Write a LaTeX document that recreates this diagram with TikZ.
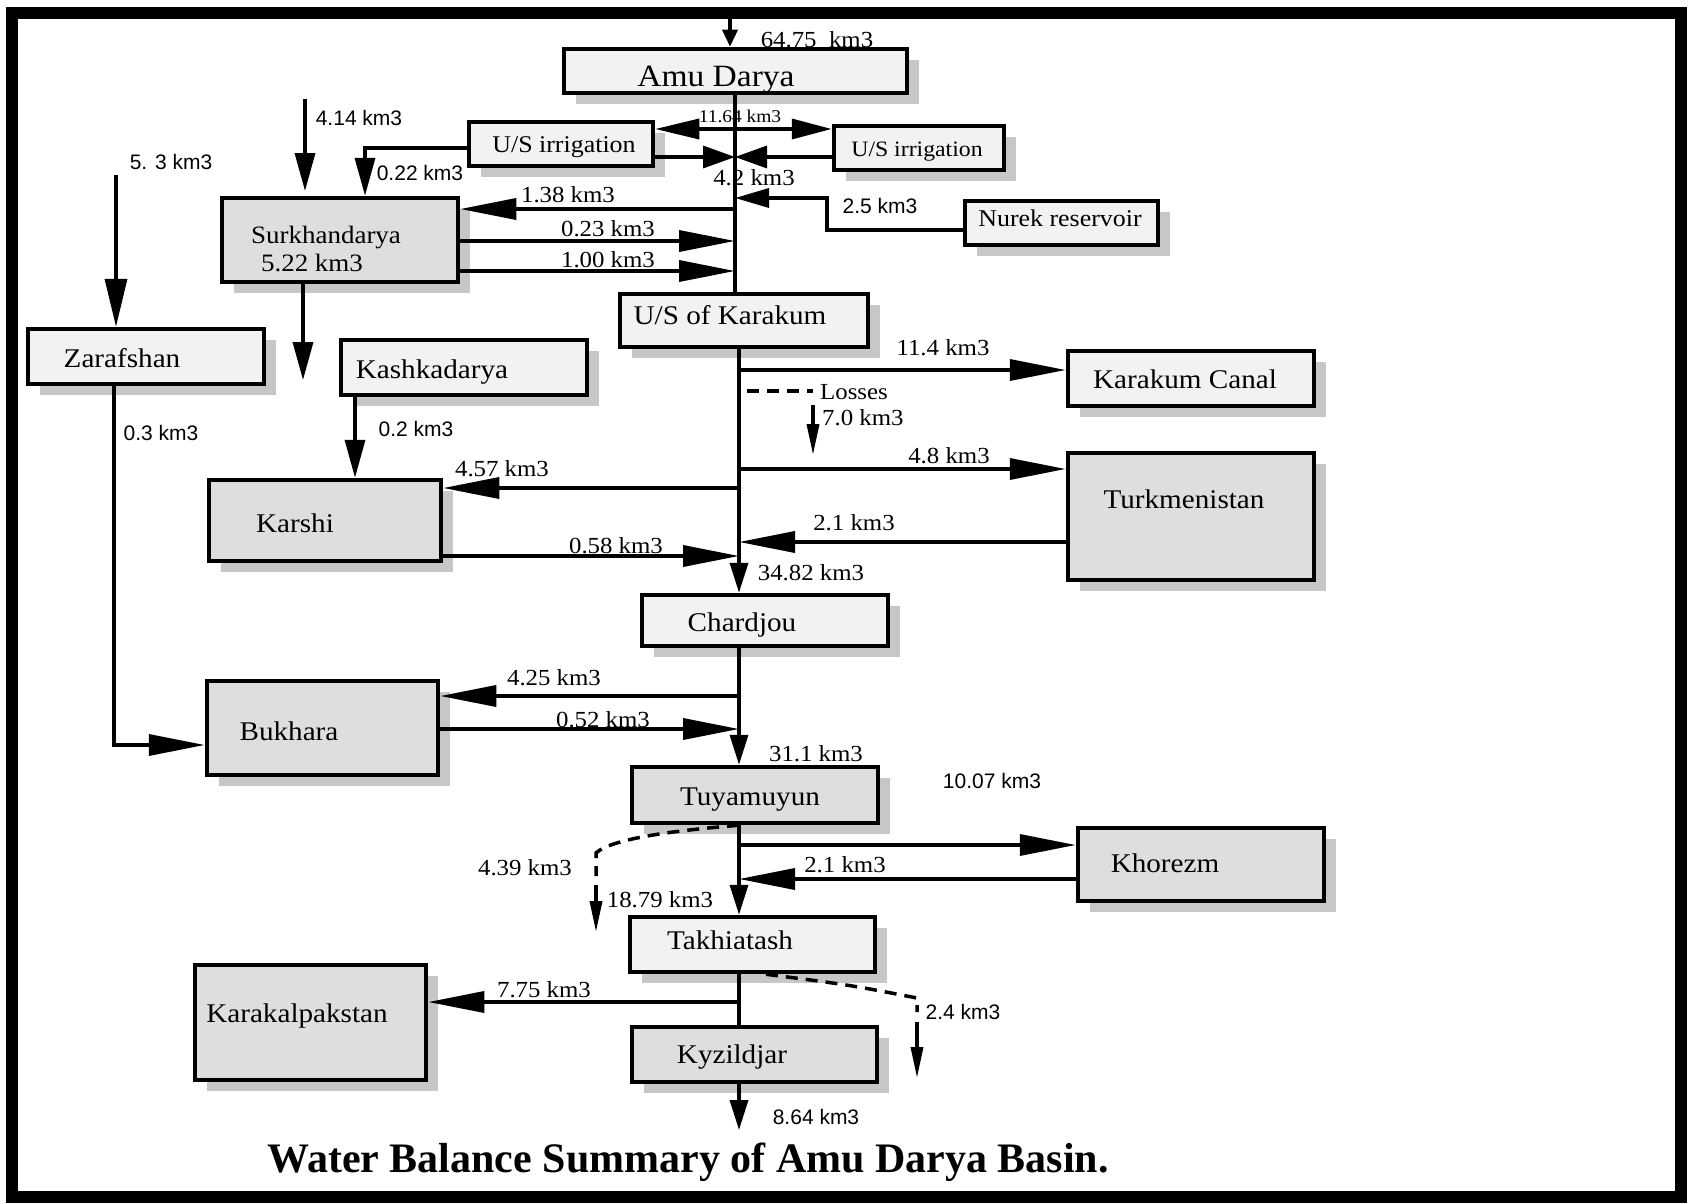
\documentclass[tikz,border=0pt]{standalone}
\usepackage{fontspec}
\setmainfont{Liberation Serif}[FakeStretch=1.08]
\newfontfamily\sansf{Liberation Sans}
\newfontfamily\titlef{Liberation Serif}
\usetikzlibrary{arrows.meta,shadows}
\begin{document}
\begin{tikzpicture}[x=1pt,y=-1pt,
  box/.style={draw, line width=4.5pt, inner sep=0pt, fill=black!5,
    drop shadow={shadow xshift=12pt, shadow yshift=-11pt, fill=black!22, opacity=1}},
  dbox/.style={box, fill=black!13},
  nm/.style={font=\fontsize{27}{30}\selectfont, anchor=base, inner sep=0pt},
  lab/.style={font=\fontsize{23}{26}\selectfont, anchor=base, inner sep=0pt},
  slab/.style={font=\sansf\fontsize{21}{24}\selectfont, anchor=base, inner sep=0pt},
  con/.style={line width=3.5pt},
  dashedl/.style={line width=3.5pt, dash pattern=on 12pt off 8pt},
  ah/.style={-{Triangle[length=56pt,width=21pt]}},
  av/.style={-{Triangle[length=38pt,width=20pt]}},
  avbig/.style={-{Triangle[length=48pt,width=22pt]}},
  atrunk/.style={-{Triangle[length=30pt,width=18pt]}},
  asm/.style={-{Triangle[length=31pt,width=12pt]}},
  atop/.style={-{Triangle[length=17pt,width=15pt]}}
]
\useasboundingbox (0,0) rectangle (1691,1204);
\draw[line width=12pt] (12,13) rectangle (1681,1197);

% boxes
\node[box, minimum width=343pt, minimum height=44pt] (amu) at (735.5,71) {};
\node[box, minimum width=184pt, minimum height=44pt] (usl) at (561,144) {};
\node[box, minimum width=170pt, minimum height=44pt] (usr) at (919,148) {};
\node[box, minimum width=193pt, minimum height=44pt] (nurek) at (1061.5,223) {};
\node[dbox, minimum width=236pt, minimum height=84pt] (surk) at (340,240) {};
\node[box, minimum width=236pt, minimum height=55pt] (zar) at (146,356.5) {};
\node[box, minimum width=246pt, minimum height=55pt] (kash) at (464,367.5) {};
\node[dbox, minimum width=232pt, minimum height=81pt] (karshi) at (325,520.5) {};
\node[box, minimum width=248pt, minimum height=53pt] (uskk) at (744,320.5) {};
\node[box, minimum width=246pt, minimum height=55pt] (kcanal) at (1191,378.5) {};
\node[dbox, minimum width=246pt, minimum height=127pt] (turk) at (1191,516.5) {};
\node[box, minimum width=246pt, minimum height=51pt] (chard) at (765,620.5) {};
\node[dbox, minimum width=231pt, minimum height=94pt] (bukh) at (322.5,728) {};
\node[dbox, minimum width=246pt, minimum height=56pt] (tuya) at (755,795) {};
\node[box, minimum width=245pt, minimum height=55pt] (takh) at (752.5,944.5) {};
\node[dbox, minimum width=245pt, minimum height=55pt] (kyz) at (754.5,1054.5) {};
\node[dbox, minimum width=231pt, minimum height=115pt] (kara) at (310.5,1022.5) {};
\node[dbox, minimum width=246pt, minimum height=73pt] (khor) at (1201,864.5) {};

% box texts
\node[nm, font=\fontsize{31}{34}\selectfont] (amuT) at (716,87) {Amu Darya};
\node[nm, font=\fontsize{24}{26}\selectfont] (uslT) at (564,152) {U/S irrigation};
\node[nm, font=\fontsize{22}{24}\selectfont] (usrT) at (917,157) {U/S irrigation};
\node[nm, font=\fontsize{24}{26}\selectfont] (nurekT) at (1060,226) {Nurek reservoir};
\node[nm, font=\fontsize{25}{27}\selectfont] (surkT) at (326,243) {Surkhandarya};
\node[nm, font=\fontsize{25}{27}\selectfont] (surkT2) at (312,271) {5.22 km3};
\node[nm] (zarT) at (122,367) {Zarafshan};
\node[nm] (kashT) at (432,378) {Kashkadarya};
\node[nm] (karshiT) at (295,532) {Karshi};
\node[nm] (uskkT) at (730,324) {U/S of Karakum};
\node[nm] (kcanalT) at (1185,388) {Karakum Canal};
\node[nm] (turkT) at (1184,508) {Turkmenistan};
\node[nm] (chardT) at (742,631) {Chardjou};
\node[nm] (bukhT) at (289,740) {Bukhara};
\node[nm] (tuyaT) at (750,805) {Tuyamuyun};
\node[nm] (takhT) at (730,949) {Takhiatash};
\node[nm] (kyzT) at (732,1063) {Kyzildjar};
\node[nm] (karaT) at (297,1022) {Karakalpakstan};
\node[nm] (khorT) at (1165,872) {Khorezm};

% coordinates
\coordinate (tx) at (735,0);
\coordinate (lx) at (739,0);
\coordinate (y11) at (0,129);
\coordinate (y42) at (0,157);
\coordinate (y022) at (0,148);
\coordinate (x022) at (365,0);
\coordinate (y138) at (0,209);
\coordinate (y023) at (0,241);
\coordinate (y100) at (0,271);
\coordinate (y25a) at (0,230);
\coordinate (y25b) at (0,198);
\coordinate (x25) at (827,0);
\coordinate (y114) at (0,370);
\coordinate (y48) at (0,469);
\coordinate (y457) at (0,488);
\coordinate (y21t) at (0,542);
\coordinate (y058) at (0,556);
\coordinate (x02) at (355,0);
\coordinate (xz) at (114,0);
\coordinate (y03) at (0,745);
\coordinate (y425) at (0,696);
\coordinate (y052) at (0,729);
\coordinate (y1007) at (0,845);
\coordinate (y21k) at (0,879);
\coordinate (y775) at (0,1002);
\coordinate (src) at (730,19);
\coordinate (s414) at (305,99);
\coordinate (e414) at (305,191);
\coordinate (s53) at (116,175);
\coordinate (sbend) at (303,380);
\coordinate (ls1) at (747,391);
\coordinate (ls2) at (813,391);
\coordinate (la1) at (813,405);
\coordinate (la2) at (813,455);
\coordinate (d1a) at (680,830);
\coordinate (d1b) at (612,838);
\coordinate (d1c) at (596,853);
\coordinate (d1d) at (596,876);
\coordinate (d1s) at (596,885);
\coordinate (d1e) at (596,932);
\coordinate (d2a) at (766,0);
\coordinate (d2b) at (850,985);
\coordinate (d2c) at (917,998);
\coordinate (d2d) at (917,1012);
\coordinate (d2s) at (917,1022);
\coordinate (d2e) at (917,1078);
\coordinate (kend) at (739,1130);

% connectors - upper
\draw[con, atop] (src) -- (src |- amu.north);
\draw[con] (amu.south -| tx) -- (uskk.north -| tx);
\draw[con, {Triangle[length=44pt,width=20pt]}-{Triangle[length=40pt,width=20pt]}] (usl.east |- y11) -- (usr.west |- y11);
\draw[con, -{Triangle[length=32pt,width=22pt]}] (usl.east |- y42) -- (tx |- y42);
\draw[con, -{Triangle[length=32pt,width=22pt]}] (usr.west |- y42) -- (tx |- y42);
\draw[con, av] (usl.west |- y022) -| (surk.north -| x022);
\draw[con, av] (s414) -- (e414);
\draw[con, avbig] (s53) -- (zar.north -| s53);
\draw[con, av] (surk.south -| sbend) -- (sbend);
\draw[con, ah] (tx |- y138) -- (surk.east |- y138);
\draw[con, ah] (surk.east |- y023) -- (tx |- y023);
\draw[con, ah] (surk.east |- y100) -- (tx |- y100);
\draw[con, -{Triangle[length=34pt,width=19pt]}] (nurek.west |- y25a) -| (x25 |- y25b) -- (tx |- y25b);

% connectors - middle
\draw[con, atrunk] (uskk.south -| lx) -- (chard.north -| lx);
\draw[con, ah] (lx |- y114) -- (kcanal.west |- y114);
\draw[dashedl] (ls1) -- (ls2);
\draw[con, asm] (la1) -- (la2);
\draw[con, ah] (lx |- y48) -- (turk.west |- y48);
\draw[con, ah] (lx |- y457) -- (karshi.east |- y457);
\draw[con, ah] (turk.west |- y21t) -- (lx |- y21t);
\draw[con, ah] (karshi.east |- y058) -- (lx |- y058);
\draw[con, av] (kash.south -| x02) -- (karshi.north -| x02);
\draw[con, ah] (zar.south -| xz) |- (bukh.west |- y03);

% connectors - lower
\draw[con, atrunk] (chard.south -| lx) -- (tuya.north -| lx);
\draw[con, ah] (lx |- y425) -- (bukh.east |- y425);
\draw[con, ah] (bukh.east |- y052) -- (lx |- y052);
\draw[con, atrunk] (tuya.south -| lx) -- (takh.north -| lx);
\draw[con, ah] (lx |- y1007) -- (khor.west |- y1007);
\draw[con, ah] (khor.west |- y21k) -- (lx |- y21k);
\draw[dashedl] (tuya.south -| lx) .. controls (d1a) and (d1b) .. (d1c) -- (d1d);
\draw[con, asm] (d1s) -- (d1e);
\draw[con] (takh.south -| lx) -- (kyz.north -| lx);
\draw[con, ah] (lx |- y775) -- (kara.east |- y775);
\draw[dashedl] (takh.south -| d2a) .. controls (d2b) .. (d2c) -- (d2d);
\draw[con, asm] (d2s) -- (d2e);
\draw[con, atrunk] (kyz.south -| lx) -- (kend);

% labels
\node[lab] (l6475) at (817,48) {64.75\ \ km3};
\node[lab, font=\fontsize{18}{20}\selectfont] (l1164) at (740,123) {11.64 km3};
\node[lab] (l42) at (754,185) {4.2 km3};
\node[slab] (l022) at (420,180) {0.22 km3};
\node[slab] (l414) at (359,125) {4.14 km3};
\node[slab] (l53) at (171,169) {5. 3 km3};
\node[lab] (l138) at (568,202) {1.38 km3};
\node[lab] (l023) at (608,236) {0.23 km3};
\node[lab] (l100) at (608,267) {1.00 km3};
\node[slab] (l25) at (880,213) {2.5 km3};
\node[lab] (l114) at (943,355) {11.4 km3};
\node[lab, anchor=base west] (lloss) at (820,399) {Losses};
\node[lab, anchor=base west] (l70) at (822,425) {7.0 km3};
\node[lab] (l48) at (949,463) {4.8 km3};
\node[lab] (l457) at (502,476) {4.57 km3};
\node[lab] (l21t) at (854,530) {2.1 km3};
\node[lab] (l058) at (616,553) {0.58 km3};
\node[slab] (l02) at (416,436) {0.2 km3};
\node[slab] (l03) at (161,440) {0.3 km3};
\node[lab] (l3482) at (811,580) {34.82 km3};
\node[lab] (l425) at (554,685) {4.25 km3};
\node[lab] (l052) at (603,727) {0.52 km3};
\node[lab] (l311) at (816,761) {31.1 km3};
\node[slab] (l1007) at (992,788) {10.07 km3};
\node[lab] (l21k) at (845,872) {2.1 km3};
\node[lab] (l1879) at (660,907) {18.79 km3};
\node[lab] (l439) at (525,875) {4.39 km3};
\node[lab] (l775) at (544,997) {7.75 km3};
\node[slab] (l24) at (963,1019) {2.4 km3};
\node[slab] (l864) at (816,1124) {8.64 km3};

\node[font=\titlef\bfseries\fontsize{42}{46}\selectfont, anchor=base, inner sep=0pt] (title) at (688,1172) {Water Balance Summary of Amu Darya Basin.};
\end{tikzpicture}
\end{document}
